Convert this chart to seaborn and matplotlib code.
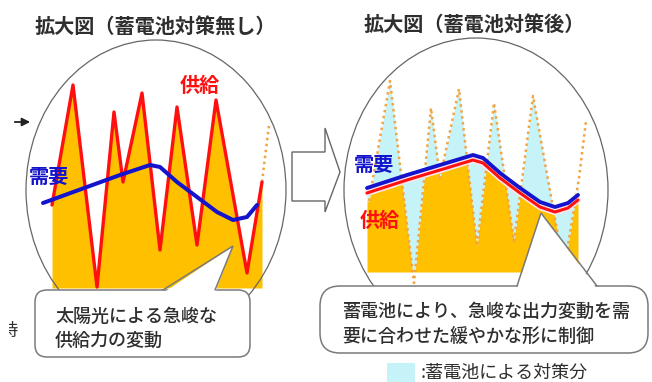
import numpy as np
import pandas as pd
import matplotlib
matplotlib.use("Agg")
import matplotlib.pyplot as plt
import matplotlib.patheffects as pe
from matplotlib.patches import Ellipse, FancyBboxPatch, Polygon, Rectangle
import seaborn as sns

sns.set_theme(style="white")
plt.rcParams["font.family"] = ["Noto Sans CJK JP", "DejaVu Sans"]

# ---- data -------------------------------------------------------------
# solar supply output (fluctuating), time in minutes-like steps, output in arbitrary units
solar_t = [0, 21, 45, 62, 71, 90, 108, 125, 145, 164, 195, 210, 217]
solar_out = [83, 203, 1, 176, 106, 195, 38, 181, 43, 188, 15, 106, 163]

# demand before battery control
demand_before_t = [-9, 35, 68, 98, 108, 125, 145, 165, 181, 195, 205]
demand_before = [85, 101, 113, 123, 121, 106, 91, 76, 68, 71, 83]

# demand / smoothed supply after battery control
demand_after_t = [-2, 38, 71, 104, 114, 131, 151, 171, 186, 199, 209]
demand_after = [96, 109, 119, 129, 126, 111, 96, 82, 77, 81, 89]
supply_after = [91, 104, 114, 124, 121, 106, 91, 77, 72, 76, 84]

title_before = "拡大図（蓄電池対策無し）"
title_after = "拡大図（蓄電池対策後）"
note_before = ["太陽光による急峻な", "供給力の変動"]
note_after = ["蓄電池により、急峻な出力変動を需", "要に合わせた緩やかな形に制御"]
legend_label = ":蓄電池による対策分"
label_supply = "供給"
label_demand = "需要"

ORANGE = "#FFC000"
RED = "#FF1010"
BLUE = "#1414CC"
CYAN = "#C6F3F7"
DOT = "#F2A443"
GRAY_TXT = "#2e2e2e"
EDGE = "#666666"

W, H = 652, 382
fig = plt.figure(figsize=(W / 100, H / 100), dpi=100)
fig.patch.set_facecolor("white")


def px_axes(left, top, width, height):
    ax = fig.add_axes([left / W, 1 - (top + height) / H, width / W, height / H])
    ax.set_axis_off()
    ax.patch.set_alpha(0)
    return ax


# ---- left panel: without battery ----------------------------------------
axL = px_axes(32, 38, 250, 260)
axL.set_xlim(-20, 230)
axL.set_ylim(-10, 250)
sol = pd.DataFrame({"t": solar_t, "out": solar_out})
main = sol.iloc[:-1]
axL.fill_between(main["t"], 0, main["out"], color=ORANGE, lw=0, zorder=1)
sns.lineplot(data=main, x="t", y="out", ax=axL, color=RED, linewidth=2.4,
             estimator=None, sort=False, zorder=3)
tail = sol.iloc[-2:]
sns.lineplot(data=tail, x="t", y="out", ax=axL, color=DOT, linewidth=1.8,
             linestyle=(0, (1, 1.4)), estimator=None, sort=False, zorder=2)
dem_b = pd.DataFrame({"t": demand_before_t, "v": demand_before})
sns.lineplot(data=dem_b, x="t", y="v", ax=axL, color=BLUE, linewidth=2.9,
             estimator=None, sort=False, zorder=4)
for ln in axL.get_lines():
    ln.set_solid_joinstyle("round")
    ln.set_solid_capstyle("round")
axL.set_xlabel("")
axL.set_ylabel("")

# ---- right panel: with battery ------------------------------------------
axR = px_axes(349, 34, 250, 260)
axR.set_xlim(-20, 230)
axR.set_ylim(-10, 250)
base = 12
tg = np.linspace(demand_after_t[0], demand_after_t[-1], 1200)
zig = np.interp(tg, solar_t, solar_out)
sup = np.interp(tg, demand_after_t, supply_after)
axR.fill_between(tg, base, np.maximum(np.minimum(zig, sup), base), color=ORANGE, lw=0, zorder=1)
axR.fill_between(tg, np.maximum(zig, base), sup, color=CYAN, lw=0, zorder=1)
sns.lineplot(data=sol, x="t", y="out", ax=axR, color=DOT, linewidth=1.8,
             linestyle=(0, (1, 1.4)), estimator=None, sort=False, zorder=2)
sup_df = pd.DataFrame({"t": demand_after_t, "v": supply_after})
sns.lineplot(data=sup_df, x="t", y="v", ax=axR, color=RED, linewidth=2.2,
             estimator=None, sort=False, zorder=3)
dem_a = pd.DataFrame({"t": demand_after_t, "v": demand_after})
sns.lineplot(data=dem_a, x="t", y="v", ax=axR, color=BLUE, linewidth=2.8,
             estimator=None, sort=False, zorder=4)
lines = axR.get_lines()
for ln in lines:
    ln.set_clip_on(False)
    ln.set_solid_joinstyle("round")
    ln.set_solid_capstyle("round")
lines[1].set_path_effects([pe.withStroke(linewidth=4.6, foreground="#FFE6EA")])
axR.set_xlabel("")
axR.set_ylabel("")

# ---- overlay: frames, callouts, titles ----------------------------------
ov = fig.add_axes([0, 0, 1, 1])
ov.set_xlim(0, W)
ov.set_ylim(H, 0)
ov.set_axis_off()
ov.patch.set_alpha(0)
ov.set_zorder(10)

ov.add_patch(Ellipse((156, 190), 260, 300, fill=False, edgecolor=EDGE, lw=0.9, zorder=1))
ov.add_patch(Ellipse((476, 190), 264, 304, fill=False, edgecolor=EDGE, lw=0.9, zorder=1))

# hollow block arrow between the two views
ov.add_patch(Polygon([(292, 152), (325, 152), (325, 128), (340, 172), (325, 212),
                      (325, 201), (292, 201)], closed=True, facecolor="white",
                     edgecolor=EDGE, lw=1.0, zorder=2))

# small pointer on the far left
ov.annotate("", xy=(33, 122), xytext=(12, 122),
            arrowprops=dict(arrowstyle="-|>", color="#222222", lw=1.3, mutation_scale=12))

# neighbouring caption, cut at the left edge
ov.text(18, 331, "時", ha="right", va="center", fontsize=12.5, color=GRAY_TXT, zorder=1)
ov.add_patch(Rectangle((0, 318), 9, 28, facecolor="white", edgecolor="none", zorder=2))


def callout(x0, y0, x1, y1, apex, b0, b1, rad):
    ov.add_patch(FancyBboxPatch((x0, y0), x1 - x0, y1 - y0,
                                boxstyle=f"round,pad=0,rounding_size={rad}",
                                facecolor="white", edgecolor="#7a7a7a", lw=1.1, zorder=3))
    ov.add_patch(Polygon([(b0, y0 + 3), apex, (b1, y0 + 3)], closed=True,
                         facecolor="white", edgecolor="none", zorder=4))
    ov.plot([b0, apex[0], b1], [y0, apex[1], y0], color="#7a7a7a", lw=1.1,
            zorder=5, solid_joinstyle="miter")


callout(35, 290, 250, 357, (233, 246), 163, 215, 12)
callout(320, 286, 648, 353, (541, 213), 517, 597, 20)

for i, s in enumerate(note_before):
    ov.text(55, 317 + 24 * i, s, ha="left", va="center", fontsize=13,
            fontweight="medium", color=GRAY_TXT, zorder=6)
for i, s in enumerate(note_after):
    ov.text(342, 312 + 25 * i, s, ha="left", va="center", fontsize=13,
            fontweight="medium", color=GRAY_TXT, zorder=6)

ov.text(155, 26, title_before, ha="center", va="center", fontsize=14.5,
        fontweight="bold", color=GRAY_TXT)
ov.text(474, 24, title_after, ha="center", va="center", fontsize=14.5,
        fontweight="bold", color=GRAY_TXT)

ov.text(200, 85, label_supply, ha="center", va="center", fontsize=14.5,
        fontweight="bold", color=RED, zorder=6)
ov.text(49, 176, label_demand, ha="center", va="center", fontsize=14.5,
        fontweight="bold", color=BLUE, zorder=6)
ov.text(374, 164, label_demand, ha="center", va="center", fontsize=14.5,
        fontweight="bold", color=BLUE, zorder=6)
ov.text(380, 220, label_supply, ha="center", va="center", fontsize=14.5,
        fontweight="bold", color=RED, zorder=6)

ov.add_patch(Rectangle((387, 363), 28, 22, facecolor=CYAN, edgecolor="none"))
ov.text(421, 373, legend_label, ha="left", va="center", fontsize=13, color=GRAY_TXT)

fig.savefig("out.png", dpi=100, facecolor="white")
